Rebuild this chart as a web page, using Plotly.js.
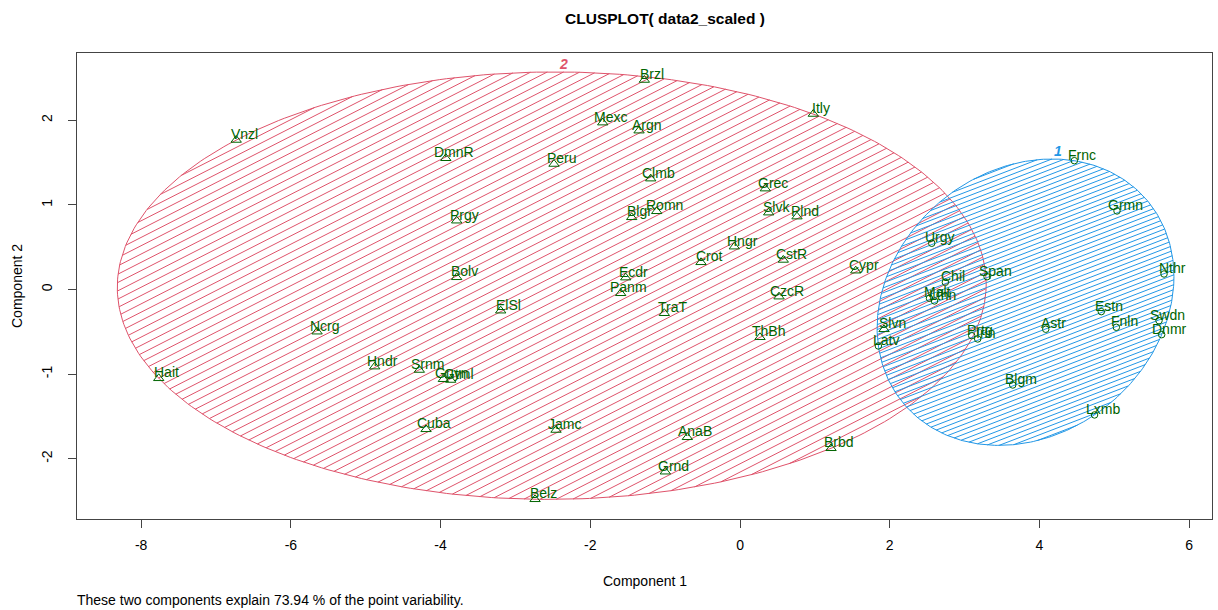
<!DOCTYPE html>
<html><head><meta charset="utf-8">
<script src="https://cdn.plot.ly/plotly-3.0.1.min.js"></script>
<style>html,body{margin:0;padding:0;background:#fff}</style>
</head><body><div id="chart" style="width:1218px;height:610px"></div>
<script>
// Cluster 2 (triangles)
const c2Labels = ["Vnzl","DmnR","Prgy","Bolv","Brzl","Mexc","Argn","Itly","Peru","Clmb","Grec","Romn","Blgr","Slvk","Plnd","Hngr","Crot","CstR","Cypr","Ecdr","Panm","CzcR","ElSl","TraT","ThBh","Slvn","Jamc","AnaB","Grnd","Belz","Brbd","Ncrg","Hait","Hndr","Srnm","Guyn","Gtml","Cuba"];
const c2X = [-6.73,-3.93,-3.785,-3.785,-1.278,-1.834,-1.349,0.979,-2.485,-1.193,0.338,-1.113,-1.447,0.383,0.761,-0.076,-0.521,0.578,1.546,-1.527,-1.594,0.521,-3.197,-1.011,0.267,1.924,-2.458,-0.704,-0.998,-2.738,1.216,-5.650,-7.765,-4.880,-4.284,-3.963,-3.865,-4.194];
const c2Y = [1.767,1.551,0.813,0.144,2.476,1.972,1.877,2.074,1.483,1.310,1.192,0.924,0.853,0.908,0.861,0.506,0.321,0.349,0.222,0.140,-0.045,-0.085,-0.251,-0.281,-0.565,-0.471,-1.661,-1.747,-2.154,-2.480,-1.877,-0.499,-1.050,-0.912,-0.952,-1.061,-1.070,-1.653];

// Cluster 1 (circles)
const c1Labels = ["Frnc","Grmn","Urgy","Span","Chil","Malt","Lthn","Prtg","Irln","Astr","Estn","Fnln","Swdn","Dnmr","Nthr","Blgm","Lxmb","Latv"];
const c1X = [4.466,5.036,2.561,3.300,2.743,2.531,2.598,3.095,3.175,4.084,4.826,5.027,5.597,5.633,5.664,3.643,4.736,1.848];
const c1Y = [1.522,0.928,0.546,0.151,0.085,-0.104,-0.136,-0.546,-0.585,-0.470,-0.262,-0.447,-0.369,-0.534,0.183,-1.129,-1.483,-0.668];

const clusterNames = ["1","2"];
const xTicks = [-8,-6,-4,-2,0,2,4,6];
const yTicks = [-2,-1,0,1,2];
const footnote = "These two components explain 73.94 % of the point variability.";

const COL1 = "#2297E6", COL2 = "#DF536B", GREEN = "#006400";
const FONT = "Liberation Sans, Arial, sans-serif";

const W = 1218, H = 610, ML = 77, MR = 6, MT = 53, MB = 91;
const xr = [-8.857, 6.305], yr = [-2.713, 2.795];
const sx = (W - ML - MR) / (xr[1] - xr[0]);
const sy = (H - MT - MB) / (yr[1] - yr[0]);

function inv3(m) {
  const [a,b,c,d,e,f,g,h,i] = [m[0][0],m[0][1],m[0][2],m[1][0],m[1][1],m[1][2],m[2][0],m[2][1],m[2][2]];
  const A = e*i-f*h, B = -(d*i-f*g), C = d*h-e*g;
  const det = a*A + b*B + c*C;
  return [[A/det, -(b*i-c*h)/det, (b*f-c*e)/det],
          [B/det, (a*i-c*g)/det, -(a*f-c*d)/det],
          [C/det, -(a*h-b*g)/det, (a*e-b*d)/det]];
}
// Minimum volume enclosing ellipse (Khachiyan), like cluster::ellipsoidhull
function mvee(X, Y) {
  const n = X.length;
  let u = new Array(n).fill(1/n);
  for (let it = 0; it < 100000; it++) {
    const M = [[0,0,0],[0,0,0],[0,0,0]];
    for (let k = 0; k < n; k++) {
      const q = [X[k], Y[k], 1];
      for (let r = 0; r < 3; r++) for (let s = 0; s < 3; s++) M[r][s] += u[k]*q[r]*q[s];
    }
    const Mi = inv3(M);
    let mx = -1, j = 0;
    for (let k = 0; k < n; k++) {
      const q = [X[k], Y[k], 1];
      let v = 0;
      for (let r = 0; r < 3; r++) for (let s = 0; s < 3; s++) v += q[r]*Mi[r][s]*q[s];
      if (v > mx) { mx = v; j = k; }
    }
    const step = (mx - 3) / (3 * (mx - 1));
    if (step < 1e-10) break;
    for (let k = 0; k < n; k++) u[k] *= (1 - step);
    u[j] += step;
  }
  let cx = 0, cy = 0;
  for (let k = 0; k < n; k++) { cx += u[k]*X[k]; cy += u[k]*Y[k]; }
  let sxx = 0, sxy = 0, syy = 0;
  for (let k = 0; k < n; k++) {
    sxx += u[k]*(X[k]-cx)*(X[k]-cx); sxy += u[k]*(X[k]-cx)*(Y[k]-cy); syy += u[k]*(Y[k]-cy)*(Y[k]-cy);
  }
  const a = 2*sxx, b = 2*sxy, c = 2*syy;
  const det = a*c - b*b;
  return {c: [cx, cy], Ainv: [[a,b],[b,c]], A: [[c/det, -b/det], [-b/det, a/det]]};
}
function outline(E) {
  const L11 = Math.sqrt(E.Ainv[0][0]), L21 = E.Ainv[0][1]/L11, L22 = Math.sqrt(E.Ainv[1][1] - L21*L21);
  const xs = [], ys = [];
  for (let i = 0; i <= 360; i++) {
    const t = i * Math.PI / 180;
    xs.push(E.c[0] + L11*Math.cos(t));
    ys.push(E.c[1] + L21*Math.cos(t) + L22*Math.sin(t));
  }
  return {xs, ys};
}
function hatch(E, angleDeg, spacingPx) {
  const th = angleDeg * Math.PI / 180;
  const d = [Math.cos(th)/sx, Math.sin(th)/sy];
  const nr = [-Math.sin(th)/sx, Math.cos(th)/sy];
  const A = E.A;
  const xs = [], ys = [];
  const quad = (p, q) => p[0]*(A[0][0]*q[0] + A[0][1]*q[1]) + p[1]*(A[1][0]*q[0] + A[1][1]*q[1]);
  for (let k = -400; k <= 400; k++) {
    const q = [k*spacingPx*nr[0], k*spacingPx*nr[1]];
    const a = quad(d, d), b = 2*quad(d, q), cc = quad(q, q) - 1;
    const disc = b*b - 4*a*cc;
    if (disc <= 0) continue;
    const t1 = (-b - Math.sqrt(disc)) / (2*a), t2 = (-b + Math.sqrt(disc)) / (2*a);
    xs.push(E.c[0] + q[0] + t1*d[0], E.c[0] + q[0] + t2*d[0], null);
    ys.push(E.c[1] + q[1] + t1*d[1], E.c[1] + q[1] + t2*d[1], null);
  }
  return {xs, ys};
}

const E1 = mvee(c1X, c1Y), E2 = mvee(c2X, c2Y);
const o1 = outline(E1), o2 = outline(E2);
const h1 = hatch(E1, 21, 4.6), h2 = hatch(E2, 27, 7.4);

const traces = [
  {x: h2.xs, y: h2.ys, mode: "lines", line: {color: COL2, width: 1}, hoverinfo: "skip"},
  {x: o2.xs, y: o2.ys, mode: "lines", line: {color: COL2, width: 1}, hoverinfo: "skip"},
  {x: h1.xs, y: h1.ys, mode: "lines", line: {color: COL1, width: 1}, hoverinfo: "skip"},
  {x: o1.xs, y: o1.ys, mode: "lines", line: {color: COL1, width: 1}, hoverinfo: "skip"},
  {x: c2X, y: c2Y, text: c2Labels, mode: "markers", marker: {symbol: "triangle-up-open", size: 9, color: GREEN, line: {width: 1, color: GREEN}}},
  {x: c1X, y: c1Y, text: c1Labels, mode: "markers", marker: {symbol: "circle-open", size: 6.5, color: GREEN, line: {width: 1, color: GREEN}}}
];

const annotations = [];
function addLabels(X, Y, L) {
  for (let i = 0; i < X.length; i++) {
    annotations.push({x: X[i], y: Y[i], xref: "x", yref: "y", text: L[i], showarrow: false,
      xshift: 8, yshift: 6, xanchor: "center", yanchor: "middle",
      font: {family: FONT, size: 14, color: GREEN}});
  }
}
addLabels(c2X, c2Y, c2Labels);
addLabels(c1X, c1Y, c1Labels);

function topOf(o) { let j = 0; for (let i = 0; i < o.ys.length; i++) if (o.ys[i] > o.ys[j]) j = i; return [o.xs[j], o.ys[j]]; }
const t1 = topOf(o1), t2 = topOf(o2);
annotations.push({x: t1[0], y: t1[1], xref: "x", yref: "y", text: "<b><i>" + clusterNames[0] + "</i></b>", showarrow: false, xshift: 7, yshift: 8, font: {family: FONT, size: 14, color: COL1}});
annotations.push({x: t2[0], y: t2[1], xref: "x", yref: "y", text: "<b><i>" + clusterNames[1] + "</i></b>", showarrow: false, xshift: 12, yshift: 8, font: {family: FONT, size: 14, color: COL2}});

annotations.push({xref: "paper", yref: "paper", x: 0.5, y: 0, yanchor: "middle", yshift: -62, text: "Component 1", showarrow: false, font: {family: FONT, size: 14, color: "#000"}});
annotations.push({xref: "paper", yref: "paper", x: 0, y: 0.5, xanchor: "center", xshift: -60, text: "Component 2", textangle: -90, showarrow: false, font: {family: FONT, size: 14, color: "#000"}});
annotations.push({xref: "paper", yref: "paper", x: 0, y: 0, xanchor: "left", yanchor: "middle", yshift: -81, xshift: -2, text: footnote, showarrow: false, font: {family: FONT, size: 14, color: "#000"}});

const axisCommon = {showgrid: false, zeroline: false, showline: true, mirror: true, linecolor: "#444", linewidth: 1,
  ticks: "outside", ticklen: 8, tickcolor: "#444", tickwidth: 1, tickfont: {family: FONT, size: 14, color: "#000"}, fixedrange: true};

const layout = {
  width: W, height: H, margin: {l: ML, r: MR, t: MT, b: MB, pad: 0},
  paper_bgcolor: "#fff", plot_bgcolor: "#fff", showlegend: false, hovermode: false,
  title: {text: "<b>CLUSPLOT( data2_scaled )</b>", x: 665 / W, xref: "container", xanchor: "center", y: 1 - 19/H, yref: "container", yanchor: "middle",
    font: {family: FONT, size: 15.5, color: "#000"}},
  xaxis: Object.assign({}, axisCommon, {range: xr, tickvals: xTicks, ticktext: xTicks.map(String), ticklabelstandoff: 5}),
  yaxis: Object.assign({}, axisCommon, {range: yr, tickvals: yTicks, ticktext: yTicks.map(String), tickangle: -90, ticklabelstandoff: 10}),
  annotations: annotations
};

Plotly.newPlot("chart", traces, layout, {displayModeBar: false, staticPlot: true});
</script>
</body></html>
